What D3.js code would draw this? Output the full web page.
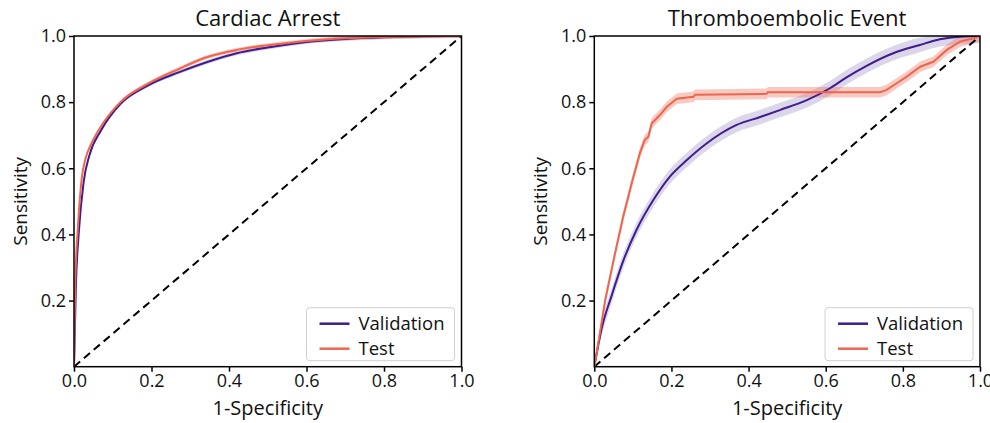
<!DOCTYPE html>
<html>
<head>
<meta charset="utf-8">
<script src="https://cdn.jsdelivr.net/npm/d3@7"></script>
<style>
  body { margin: 0; background: #fff; }
  svg text { font-family: "Open Sans", sans-serif; fill: #111; }
</style>
</head>
<body>
<svg id="chart" width="990" height="423"></svg>
<script>
// Cardiac Arrest ROC (1-specificity / sensitivity)
const cardiacValX = [0, 0.005, 0.012, 0.025, 0.04, 0.07, 0.12, 0.19, 0.27, 0.34, 0.42, 0.5, 0.6, 0.7, 0.8, 0.9, 1];
const cardiacValY = [0, 0.25, 0.40, 0.56, 0.64, 0.715, 0.795, 0.85, 0.89, 0.92, 0.948, 0.965, 0.982, 0.991, 0.996, 0.999, 1];
const cardiacTestX = [0, 0.003, 0.01, 0.02, 0.03, 0.045, 0.07, 0.12, 0.19, 0.27, 0.34, 0.42, 0.5, 0.6, 0.7, 0.8, 0.9, 1];
const cardiacTestY = [0, 0.25, 0.42, 0.57, 0.63, 0.675, 0.727, 0.80, 0.855, 0.9, 0.935, 0.958, 0.972, 0.985, 0.993, 0.997, 0.999, 1];

// Thromboembolic Event ROC
const thromboValX = [0, 0.02, 0.045, 0.075, 0.11, 0.153, 0.196, 0.24, 0.291, 0.369, 0.43, 0.481, 0.551, 0.611, 0.654, 0.706, 0.775, 0.844, 0.896, 0.948, 1];
const thromboValY = [0, 0.12, 0.215, 0.32, 0.415, 0.504, 0.575, 0.625, 0.675, 0.731, 0.755, 0.776, 0.806, 0.842, 0.875, 0.91, 0.948, 0.973, 0.99, 0.998, 1];
const thromboTestX = [0, 0.006, 0.028, 0.054, 0.075, 0.097, 0.118, 0.131, 0.14, 0.149, 0.17, 0.188, 0.214, 0.257, 0.261, 0.447, 0.45, 0.741, 0.758, 0.784, 0.81, 0.845, 0.879, 0.914, 0.948, 0.983, 1];
const thromboTestY = [0, 0.04, 0.2, 0.344, 0.454, 0.555, 0.645, 0.686, 0.695, 0.736, 0.761, 0.786, 0.81, 0.816, 0.822, 0.825, 0.83, 0.83, 0.837, 0.857, 0.877, 0.907, 0.922, 0.958, 0.983, 0.993, 1];

// confidence band half widths [validation, test]
const cardiacBand = [0.006, 0.006];
const thromboBand = [0.022, 0.016];

const xTicks = [0, 0.2, 0.4, 0.6, 0.8, 1.0];
const yTicks = [0.2, 0.4, 0.6, 0.8, 1.0];
const seriesNames = ["Validation", "Test"];
const colors = ["#3f1d8c", "#ee6650"];

const svg = d3.select("#chart");

function zip(xs, ys) {
    return xs.map((x, i) => ({x: x, y: ys[i]}));
}

/*
 *  Draw one ROC panel.
 */
function drawPanel(cfg) {
    const x = d3.scaleLinear().domain([0, 1]).range([cfg.left, cfg.right]);
    const y = d3.scaleLinear().domain([0, 1]).range([cfg.bottom, cfg.top]);
    const g = svg.append("g");

    const clipId = "clip-" + cfg.id;
    svg.append("clipPath").attr("id", clipId)
        .append("rect")
        .attr("x", cfg.left).attr("y", cfg.top)
        .attr("width", cfg.right - cfg.left).attr("height", cfg.bottom - cfg.top);

    const plot = g.append("g").attr("clip-path", "url(#" + clipId + ")");

    // bands first
    cfg.series.forEach((s, i) => {
        const pts = zip(s.xs, s.ys);
        const area = d3.area()
            .curve(s.curve)
            .x(d => x(d.x))
            .y0(d => y(Math.max(0, d.y - s.band)))
            .y1(d => y(Math.min(1, d.y + s.band)));
        plot.append("path")
            .attr("d", area(pts))
            .attr("fill", colors[i])
            .attr("fill-opacity", i === 0 ? 0.18 : 0.35);
    });

    // diagonal
    plot.append("line")
        .attr("x1", x(0)).attr("y1", y(0))
        .attr("x2", x(1)).attr("y2", y(1))
        .attr("stroke", "#000")
        .attr("stroke-width", 2)
        .attr("stroke-dasharray", "8,5");

    cfg.series.forEach((s, i) => {
        const line = d3.line().curve(s.curve).x(d => x(d.x)).y(d => y(d.y));
        plot.append("path")
            .attr("d", line(zip(s.xs, s.ys)))
            .attr("fill", "none")
            .attr("stroke", colors[i])
            .attr("stroke-width", 2);
    });

    // axes
    const xAxis = d3.axisBottom(x).tickValues(xTicks).tickFormat(d3.format(".1f")).tickSize(5).tickPadding(3);
    const yAxis = d3.axisLeft(y).tickValues(yTicks).tickFormat(d3.format(".1f")).tickSize(5).tickPadding(3);

    const gx = g.append("g").attr("transform", "translate(0," + cfg.bottom + ")").call(xAxis);
    const gy = g.append("g").attr("transform", "translate(" + cfg.left + ",0)").call(yAxis);
    [gx, gy].forEach(a => {
        a.select(".domain").remove();
        a.selectAll(".tick line").attr("stroke", "#000").attr("stroke-width", 1.5);
        a.selectAll(".tick text").style("font-size", "18px").attr("fill", "#111");
    });

    // frame
    g.append("rect")
        .attr("x", cfg.left).attr("y", cfg.top)
        .attr("width", cfg.right - cfg.left).attr("height", cfg.bottom - cfg.top)
        .attr("fill", "none").attr("stroke", "#000").attr("stroke-width", 1.5);

    // title and labels
    g.append("text")
        .attr("x", (cfg.left + cfg.right) / 2).attr("y", 26)
        .attr("text-anchor", "middle")
        .style("font-size", "22px")
        .text(cfg.title);
    g.append("text")
        .attr("x", (cfg.left + cfg.right) / 2).attr("y", 415)
        .attr("text-anchor", "middle")
        .style("font-size", "20px")
        .text("1-Specificity");
    g.append("text")
        .attr("transform", "translate(" + (cfg.left - 47) + "," + ((cfg.top + cfg.bottom) / 2) + ") rotate(-90)")
        .attr("text-anchor", "middle")
        .style("font-size", "19px")
        .text("Sensitivity");

    // legend
    const lx = cfg.right - 155, ly = cfg.bottom - 59;
    const leg = g.append("g").attr("transform", "translate(" + lx + "," + ly + ")");
    leg.append("rect")
        .attr("x", 0).attr("y", 0).attr("width", 148).attr("height", 53)
        .attr("rx", 3)
        .attr("fill", "#fff").attr("fill-opacity", 0.85)
        .attr("stroke", "#d0d0d0").attr("stroke-width", 1);
    seriesNames.forEach((name, i) => {
        const yy = 16 + i * 25;
        leg.append("line")
            .attr("x1", 13).attr("x2", 43).attr("y1", yy).attr("y2", yy)
            .attr("stroke", colors[i]).attr("stroke-width", 2.5);
        leg.append("text")
            .attr("x", 52).attr("y", yy + 6)
            .style("font-size", "18.5px")
            .text(name);
    });
}

drawPanel({
    id: "a", title: "Cardiac Arrest",
    left: 74, right: 461.5, top: 36, bottom: 366.7,
    series: [
        {xs: cardiacValX, ys: cardiacValY, band: cardiacBand[0], curve: d3.curveMonotoneX},
        {xs: cardiacTestX, ys: cardiacTestY, band: cardiacBand[1], curve: d3.curveMonotoneX}
    ]
});

drawPanel({
    id: "b", title: "Thromboembolic Event",
    left: 594.3, right: 980, top: 36, bottom: 366.7,
    series: [
        {xs: thromboValX, ys: thromboValY, band: thromboBand[0], curve: d3.curveMonotoneX},
        {xs: thromboTestX, ys: thromboTestY, band: thromboBand[1], curve: d3.curveLinear}
    ]
});
</script>
</body>
</html>
